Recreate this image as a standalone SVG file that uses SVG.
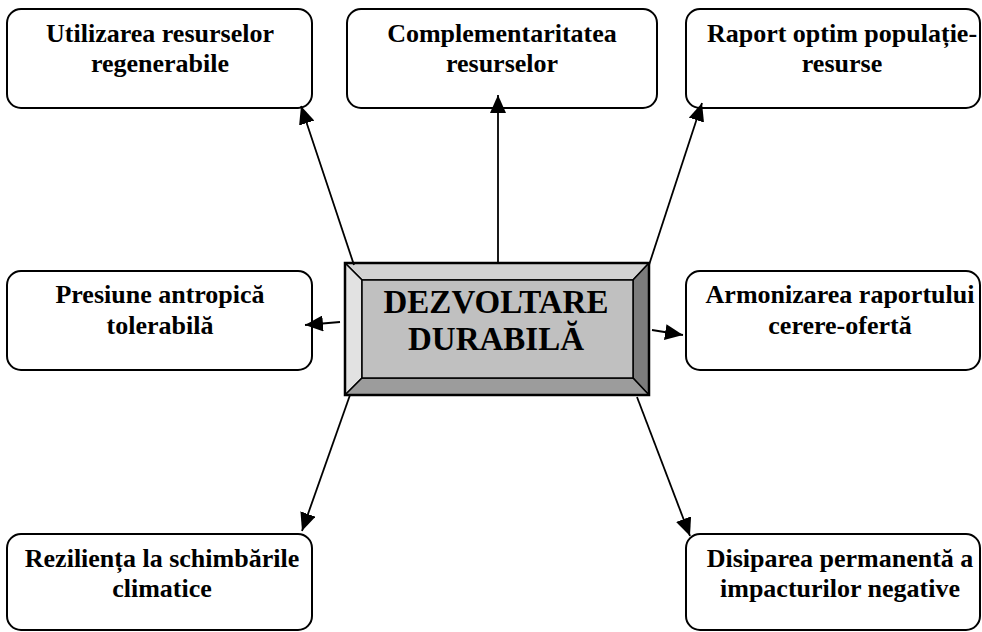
<svg xmlns="http://www.w3.org/2000/svg" width="982" height="632" viewBox="0 0 982 632">
<defs>
<style>
.box{fill:#fff;stroke:#000;stroke-width:2}
.t{font-family:"Liberation Serif","Times New Roman",serif;font-weight:bold;font-size:26px;text-anchor:middle;fill:#000}
.big{font-family:"Liberation Serif","Times New Roman",serif;font-weight:bold;font-size:33px;text-anchor:middle;fill:#000}
.c{stroke:#000;stroke-width:1.8;fill:none;marker-end:url(#ah)}
.bev{stroke:#000;stroke-width:1.5;stroke-linejoin:round}
</style>
<marker id="ah" markerUnits="userSpaceOnUse" markerWidth="19" markerHeight="16" refX="18" refY="8" orient="auto">
<path d="M0,0 L18,8 L0,16 z" fill="#000"/>
</marker>
</defs>
<rect width="982" height="632" fill="#fff"/>
<g id="n-utilizarea">
<rect class="box" x="7" y="9" width="305" height="99" rx="14"/>
<text class="t" x="160" y="42">Utilizarea resurselor</text>
<text class="t" x="160" y="72">regenerabile</text>
</g>
<g id="n-complementaritatea">
<rect class="box" x="347" y="9" width="310" height="99" rx="14"/>
<text class="t" x="502" y="42">Complementaritatea</text>
<text class="t" x="502" y="72">resurselor</text>
</g>
<g id="n-raport">
<rect class="box" x="686" y="9" width="294" height="99" rx="14"/>
<text class="t" x="842" y="42">Raport optim populație-</text>
<text class="t" x="842" y="72">resurse</text>
</g>
<g id="n-presiune">
<rect class="box" x="7" y="271" width="305" height="99" rx="14"/>
<text class="t" x="160" y="303">Presiune antropică</text>
<text class="t" x="160" y="334">tolerabilă</text>
</g>
<g id="n-armonizarea">
<rect class="box" x="686" y="271" width="294" height="99" rx="14"/>
<text class="t" x="840" y="303">Armonizarea raportului</text>
<text class="t" x="840" y="334">cerere-ofertă</text>
</g>
<g id="n-rezilienta">
<rect class="box" x="7" y="534" width="305" height="96" rx="14"/>
<text class="t" x="162" y="567">Reziliența la schimbările</text>
<text class="t" x="162" y="597">climatice</text>
</g>
<g id="n-disiparea">
<rect class="box" x="686" y="534" width="294" height="96" rx="14"/>
<text class="t" x="840" y="567">Disiparea permanentă a</text>
<text class="t" x="840" y="597">impacturilor negative</text>
</g>
<g id="n-center">
<rect x="345" y="263" width="304" height="132" fill="#c0c0c0"/>
<polygon class="bev" points="345,263 649,263 633,280 362,280" fill="#d2d2d2"/>
<polygon class="bev" points="345,263 362,280 362,378 345,395" fill="#e2e2e2"/>
<polygon class="bev" points="649,263 649,395 633,378 633,280" fill="#7c7c7c"/>
<polygon class="bev" points="345,395 362,378 633,378 649,395" fill="#9c9c9c"/>
<rect x="362" y="280" width="271" height="98" fill="#c0c0c0" stroke="#000" stroke-width="1.5"/>
<rect x="345" y="263" width="304" height="132" fill="none" stroke="#000" stroke-width="2.5"/>
<text class="big" x="496" y="313">DEZVOLTARE</text>
<text class="big" x="496" y="350">DURABILĂ</text>
</g>
<g id="connectors">
<line class="c" x1="354" y1="265" x2="301" y2="106"/>
<line class="c" x1="498" y1="263" x2="498" y2="95"/>
<line class="c" x1="649" y1="265" x2="702" y2="103"/>
<line class="c" x1="340" y1="322" x2="305" y2="325"/>
<line class="c" x1="652" y1="330" x2="683" y2="335"/>
<line class="c" x1="350" y1="395" x2="302" y2="531"/>
<line class="c" x1="637" y1="397" x2="690" y2="536"/>
</g>
</svg>
